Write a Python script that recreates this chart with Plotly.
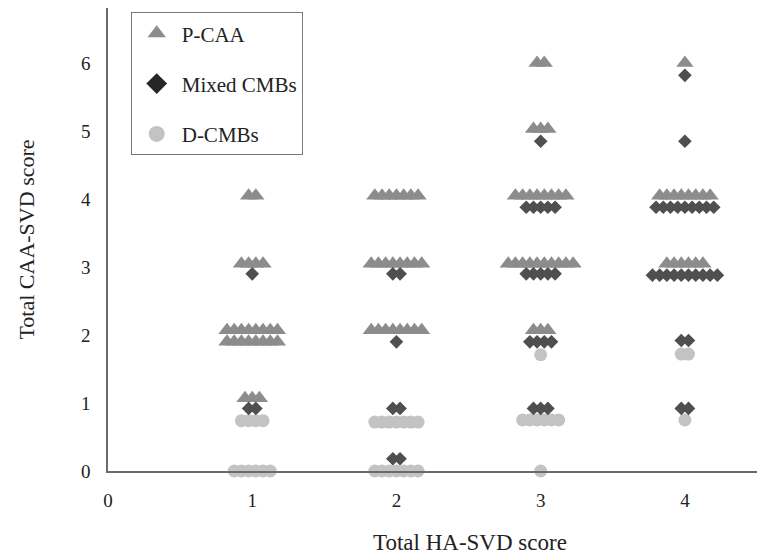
import plotly.graph_objects as go

# ---- data: clusters of patients (HA-SVD score, CAA-SVD row position, count) ----
pcaa_x = [1, 1, 1, 1, 1, 2, 2, 2, 3, 3, 3, 3, 3, 4, 4, 4]
pcaa_y = [4.05, 3.05, 2.07, 1.9, 1.07, 4.05, 3.05, 2.07, 6.0, 5.03, 4.05, 3.05, 2.07, 6.0, 4.05, 3.05]
pcaa_n = [2, 4, 8, 8, 3, 7, 8, 8, 2, 3, 8, 10, 3, 1, 8, 6]

mixed_x = [1, 1, 2, 2, 2, 2, 3, 3, 3, 3, 3, 4, 4, 4, 4, 4, 4]
mixed_y = [2.9, 0.92, 2.9, 1.9, 0.92, 0.18, 4.85, 3.88, 2.9, 1.9, 0.92, 5.82, 4.85, 3.88, 2.88, 1.92, 0.92]
mixed_n = [1, 2, 2, 1, 2, 2, 1, 5, 5, 4, 3, 1, 1, 9, 10, 2, 2]

dcmb_x = [1, 1, 2, 2, 3, 3, 3, 4, 4]
dcmb_y = [0.74, 0.0, 0.72, 0.0, 1.71, 0.75, 0.0, 1.72, 0.75]
dcmb_n = [4, 6, 7, 7, 1, 6, 1, 2, 1]

x_ticks = [0, 1, 2, 3, 4]
y_ticks = [0, 1, 2, 3, 4, 5, 6]

x_title = "Total HA-SVD score"
y_title = "Total CAA-SVD score"

STEP = 0.05  # horizontal spacing of stacked points (beeswarm)


def swarm(xs, ys, ns):
    px, py = [], []
    for x, y, n in zip(xs, ys, ns):
        for i in range(n):
            px.append(x + (i - (n - 1) / 2) * STEP)
            py.append(y)
    return px, py


FONT = "Liberation Serif"
C_TRI = "#8c8c8c"
C_DIA = "#4f4f4f"
C_CIR = "#c3c3c3"

fig = go.Figure()

# draw order: circles, triangles, diamonds (diamonds on top)
cx, cy = swarm(dcmb_x, dcmb_y, dcmb_n)
fig.add_trace(go.Scatter(x=cx, y=cy, mode="markers", showlegend=False, cliponaxis=False,
                         marker=dict(symbol="circle", size=13, color=C_CIR, line=dict(width=0))))
tx, ty = swarm(pcaa_x, pcaa_y, pcaa_n)
fig.add_trace(go.Scatter(x=tx, y=ty, mode="markers", showlegend=False, cliponaxis=False,
                         marker=dict(symbol="triangle-up", size=15, color=C_TRI, line=dict(width=0))))
dx, dy = swarm(mixed_x, mixed_y, mixed_n)
fig.add_trace(go.Scatter(x=dx, y=dy, mode="markers", showlegend=False, cliponaxis=False,
                         marker=dict(symbol="diamond", size=10.5, color=C_DIA, line=dict(width=0))))

# legend entries
legend_items = [("P-CAA", "triangle-up", C_TRI), ("Mixed CMBs", "diamond", "#262626"),
                ("D-CMBs", "circle", C_CIR)]
for i, (name, sym, col) in enumerate(legend_items):
    fig.add_trace(go.Scatter(x=[None], y=[None], mode="markers", name=name, legendgroup=str(i),
                             marker=dict(symbol=sym, size=16, color=col, line=dict(width=0))))

axis_common = dict(showgrid=False, zeroline=False, showline=True, linecolor="#6a6a6a",
                   linewidth=1.5, ticks="", tickfont=dict(family=FONT, size=19, color="#222"))

# note: the page body adds an 8px offset at top/left
fig.update_layout(
    width=769, height=560,
    margin=dict(l=100, r=20, t=0, b=97),
    paper_bgcolor="white", plot_bgcolor="white",
    font=dict(family=FONT, color="#222"),
    xaxis=dict(range=[0, 4.5], tickvals=x_ticks, ticktext=[str(v) for v in x_ticks],
               ticklabelstandoff=11, **axis_common),
    yaxis=dict(range=[0, 6.81], tickvals=y_ticks, ticktext=[str(v) for v in y_ticks],
               ticklabelstandoff=12,
               title=dict(text=y_title, font=dict(family=FONT, size=22, color="#222"),
                          standoff=40),
               **axis_common),
    legend=dict(x=0.035, y=0.991, xanchor="left", yanchor="top",
                bordercolor="#7a7a7a", borderwidth=1, bgcolor="white",
                font=dict(family=FONT, size=21, color="#222"),
                traceorder="grouped", tracegroupgap=20, itemwidth=40,
                entrywidth=162, entrywidthmode="pixels"),
    annotations=[dict(text=x_title, xref="paper", yref="paper", x=0.558, y=-0.155,
                      xanchor="center", yanchor="middle", showarrow=False,
                      font=dict(family=FONT, size=23, color="#222"))],
)

fig.write_html("out.html")
